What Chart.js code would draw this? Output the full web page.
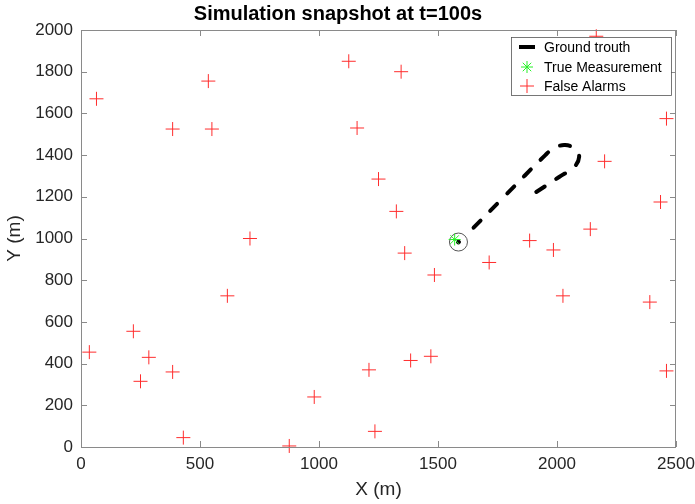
<!DOCTYPE html>
<html>
<head>
<meta charset="utf-8">
<script src="https://cdn.jsdelivr.net/npm/chart.js@4/dist/chart.umd.min.js"></script>
<style>
  html, body { margin: 0; padding: 0; background: #fff; }
  #box { width: 695px; height: 504px; }
</style>
</head>
<body>
<div id="box"><canvas id="grafico"></canvas></div>
<script>
// Dados
const falsoX = [65, 535, 385, 550, 1125, 1345, 1160, 2165, 2460, 2200, 2435, 1250, 1325, 710, 1360, 1485, 1715, 1885, 1985, 2140, 2025, 2390, 2460, 615, 220, 35, 285, 250, 385, 430, 875, 980, 1210, 1235, 1385, 1470];
const falsoY = [1670, 1755, 1525, 1525, 1850, 1800, 1530, 1970, 1575, 1370, 1175, 1285, 1130, 1000, 930, 825, 885, 990, 945, 1045, 725, 695, 365, 725, 555, 455, 430, 315, 360, 45, 5, 240, 370, 75, 415, 435];

// trajetória verdadeira (do início até a posição atual)
const verdadeX = [1913, 2009, 2072, 2093, 2076, 2034, 1988, 1951, 1780, 1611];
const verdadeY = [1223, 1295, 1343, 1391, 1429, 1448, 1434, 1400, 1203, 1007];

const medidaX = [1570];
const medidaY = [995];

const estimX = [1586];
const estimY = [983];

const ticksX = [0, 500, 1000, 1500, 2000, 2500];
const ticksY = [0, 200, 400, 600, 800, 1000, 1200, 1400, 1600, 1800, 2000];

const pontos = (xs, ys) => xs.map((x, i) => ({ x: x, y: ys[i] }));

const vermelho = "rgb(255,45,45)";
const verde = "rgb(40,240,40)";
const corEixo = "#8a8a8a";
const corTexto = "#262626";

// Caixa estilo MATLAB + ticks para dentro
const caixaPlugin = {
  id: "caixa",
  afterDraw(chart) {
    const { ctx, chartArea: a, scales } = chart;
    ctx.save();
    ctx.strokeStyle = corEixo;
    ctx.lineWidth = 1;
    ctx.strokeRect(a.left + 0.5, a.top + 0.5, a.right - a.left - 1, a.bottom - a.top);
    ctx.beginPath();
    ticksX.forEach(v => {
      const px = Math.round(scales.x.getPixelForValue(v)) + 0.5;
      ctx.moveTo(px, a.bottom); ctx.lineTo(px, a.bottom - 6);
      ctx.moveTo(px, a.top); ctx.lineTo(px, a.top + 6);
    });
    ticksY.forEach(v => {
      const py = Math.round(scales.y.getPixelForValue(v)) + 0.5;
      ctx.moveTo(a.left, py); ctx.lineTo(a.left + 6, py);
      ctx.moveTo(a.right, py); ctx.lineTo(a.right - 6, py);
    });
    ctx.stroke();

    // legenda dentro do gráfico
    const x0 = a.right - 165, y0 = a.top + 7, w = 160, h = 58;
    ctx.fillStyle = "#fff";
    ctx.fillRect(x0, y0, w, h);
    ctx.strokeStyle = "#555";
    ctx.lineWidth = 0.8;
    ctx.strokeRect(x0 + 0.5, y0 + 0.5, w, h);
    const ds = chart.data.datasets;
    const linhas = [y0 + 10, y0 + 30, y0 + 49];
    const sx = x0 + 16;
    // linha preta
    ctx.strokeStyle = "#000";
    ctx.lineWidth = 4;
    ctx.beginPath();
    ctx.moveTo(sx - 8, linhas[0]); ctx.lineTo(sx + 8, linhas[0]);
    ctx.stroke();
    // estrela verde
    ctx.strokeStyle = verde;
    ctx.lineWidth = 1;
    ctx.beginPath();
    const r = 6, d = r * Math.SQRT1_2;
    ctx.moveTo(sx - r, linhas[1]); ctx.lineTo(sx + r, linhas[1]);
    ctx.moveTo(sx, linhas[1] - r); ctx.lineTo(sx, linhas[1] + r);
    ctx.moveTo(sx - d, linhas[1] - d); ctx.lineTo(sx + d, linhas[1] + d);
    ctx.moveTo(sx - d, linhas[1] + d); ctx.lineTo(sx + d, linhas[1] - d);
    ctx.stroke();
    // cruz vermelha
    ctx.strokeStyle = vermelho;
    ctx.beginPath();
    ctx.moveTo(sx - 7, linhas[2]); ctx.lineTo(sx + 7, linhas[2]);
    ctx.moveTo(sx, linhas[2] - 7); ctx.lineTo(sx, linhas[2] + 7);
    ctx.stroke();

    ctx.fillStyle = "#000";
    ctx.font = "14px 'Liberation Sans', Arial, sans-serif";
    ctx.textBaseline = "middle";
    ctx.textAlign = "left";
    for (let i = 0; i < 3; i++) ctx.fillText(ds[i].label, x0 + 33, linhas[i] + 1);
    ctx.restore();
  }
};

const fonte = "'Liberation Sans', Arial, sans-serif";

new Chart(document.getElementById("grafico"), {
  type: "scatter",
  data: {
    datasets: [
      {
        label: "Ground trouth",
        data: pontos(verdadeX, verdadeY),
        showLine: true,
        borderColor: "#000",
        borderWidth: 4,
        borderDash: [10, 14],
        borderCapStyle: "round",
        tension: 0.4,
        pointRadius: 0,
        order: 1
      },
      {
        label: "True Measurement",
        data: pontos(medidaX, medidaY),
        pointStyle: "star",
        pointRadius: 6,
        borderColor: verde,
        borderWidth: 1,
        backgroundColor: verde,
        order: 2
      },
      {
        label: "False Alarms",
        data: pontos(falsoX, falsoY),
        pointStyle: "cross",
        pointRadius: 7,
        borderColor: vermelho,
        borderWidth: 1,
        backgroundColor: vermelho,
        clip: false,
        order: 3
      },
      {
        label: "Estimate",
        data: pontos(estimX, estimY),
        pointStyle: "circle",
        pointRadius: 2,
        backgroundColor: "#000",
        borderColor: "#000",
        order: 4
      },
      {
        label: "Gate",
        data: pontos(estimX, estimY),
        pointStyle: "circle",
        pointRadius: 9,
        backgroundColor: "rgba(0,0,0,0)",
        borderColor: "#555",
        borderWidth: 1,
        order: 5
      }
    ]
  },
  options: {
    responsive: true,
    maintainAspectRatio: false,
    animation: false,
    events: [],
    layout: { padding: { left: 0, right: 19, top: 0, bottom: 0 } },
    plugins: {
      legend: { display: false },
      tooltip: { enabled: false },
      title: {
        display: true,
        text: "Simulation snapshot at t=100s",
        color: "#000",
        font: { family: fonte, size: 20, weight: "bold" },
        padding: { top: 2, bottom: 4 }
      }
    },
    scales: {
      x: {
        type: "linear",
        min: 0, max: 2500,
        afterBuildTicks: s => { s.ticks = ticksX.map(v => ({ value: v })); },
        afterFit: s => { s.height = 57; s.paddingLeft = 0; s.paddingRight = 0; },
        grid: { display: false, drawTicks: false },
        border: { display: false },
        ticks: { color: corTexto, font: { family: fonte, size: 17 }, padding: 7, maxRotation: 0, callback: v => String(v) },
        title: { display: true, text: "X (m)", color: corTexto, font: { family: fonte, size: 19 }, padding: { top: 0, bottom: 3 } }
      },
      y: {
        type: "linear",
        min: 0, max: 2000,
        afterBuildTicks: s => { s.ticks = ticksY.map(v => ({ value: v })); },
        afterFit: s => { s.width = 81; s.paddingTop = 0; s.paddingBottom = 0; },
        grid: { display: false, drawTicks: false },
        border: { display: false },
        ticks: { color: corTexto, font: { family: fonte, size: 17 }, padding: 8, callback: v => String(v) },
        title: { display: true, text: "Y (m)", color: corTexto, font: { family: fonte, size: 19 }, padding: { top: 3, bottom: 0 } }
      }
    }
  },
  plugins: [caixaPlugin]
});
</script>
</body>
</html>
